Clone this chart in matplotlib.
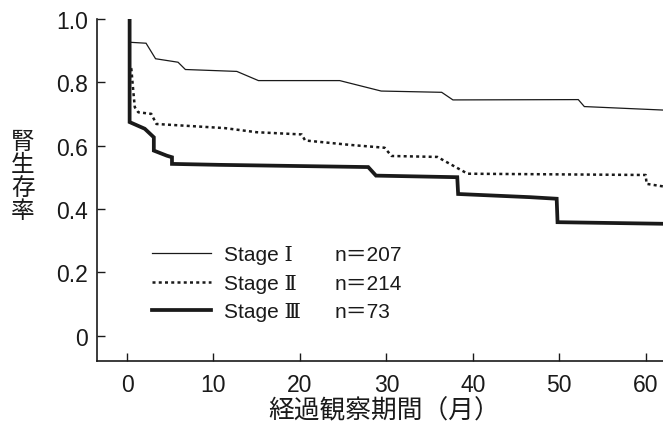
import matplotlib
matplotlib.use("Agg")
import matplotlib.pyplot as plt
from matplotlib.lines import Line2D

# ---- data ----
t_stage1 = [0.3, 0.3, 2.2, 3.3, 5.9, 6.75, 12.7, 15.2, 24.6, 29.4, 36.4, 37.7, 52.2, 52.9, 62]
s_stage1 = [1.0, 0.926, 0.923, 0.874, 0.863, 0.840, 0.834, 0.805, 0.805, 0.772, 0.768, 0.744, 0.745, 0.723, 0.712]

t_stage2 = [0.3, 0.3, 0.5, 0.7, 0.9, 1.3, 2.8, 3.4, 11.3, 15.0, 20.2, 20.6, 25.8, 29.8, 30.6, 35.9, 39.4, 60.0, 60.1, 62]
s_stage2 = [1.0, 0.85, 0.842, 0.779, 0.721, 0.705, 0.700, 0.668, 0.655, 0.642, 0.635, 0.616, 0.602, 0.593, 0.567, 0.564, 0.511, 0.507, 0.479, 0.471]

t_stage3 = [0.3, 0.3, 2.05, 3.1, 3.1, 4.6, 5.2, 5.2, 10.7, 27.9, 28.8, 38.2, 38.3, 46.6, 49.7, 49.8, 62]
s_stage3 = [1.0, 0.674, 0.653, 0.626, 0.584, 0.568, 0.563, 0.542, 0.539, 0.532, 0.505, 0.500, 0.447, 0.437, 0.432, 0.358, 0.353]

stage_labels = ["Stage \u2160", "Stage \u2161", "Stage \u2162"]
n_labels = ["n\uff1d207", "n\uff1d214", "n\uff1d73"]

x_ticks = [0, 10, 20, 30, 40, 50, 60]
y_ticks = [0, 0.2, 0.4, 0.6, 0.8, 1.0]
y_ticklabels = ["0", "0.2", "0.4", "0.6", "0.8", "1.0"]

x_label = "経過観察期間（月）"
y_label = "腎\n生\n存\n率"

# ---- style ----
fam = ["Liberation Sans", "DejaVu Serif", "Noto Sans CJK JP"]
plt.rcParams["font.family"] = fam

fig = plt.figure(figsize=(6.63, 4.31), dpi=100)
ax = fig.add_axes([0.147, 0.161, 0.853, 0.793])

l1, = ax.plot(t_stage1, s_stage1, color="#1a1a1a", lw=0.9, solid_joinstyle="miter")
l2, = ax.plot(t_stage2, s_stage2, color="#1a1a1a", lw=1.8, linestyle=(0, (1.2, 1.3)))
l3, = ax.plot(t_stage3, s_stage3, color="#1a1a1a", lw=2.7, solid_joinstyle="miter")

ax.set_xlim(-3.42, 62)
ax.set_ylim(-0.079, 1.0)
ax.set_xticks(x_ticks)
ax.set_yticks(y_ticks)
ax.set_yticklabels(y_ticklabels)
ax.tick_params(direction="in", length=6, width=1.0, labelsize=16.5, colors="#1a1a1a")
ax.tick_params(axis="y", pad=7)
ax.tick_params(axis="x", pad=9)
for sp in ["top", "right"]:
    ax.spines[sp].set_visible(False)
for sp in ["left", "bottom"]:
    ax.spines[sp].set_linewidth(1.2)
    ax.spines[sp].set_color("#1a1a1a")

ax.set_xlabel(x_label, fontsize=18.5, family=["Noto Sans CJK JP"], color="#1a1a1a")
ax.xaxis.set_label_coords(0.507, -0.145)
ax.xaxis.label.set_verticalalignment("center")
ax.set_ylabel(y_label, fontsize=17, family=["Noto Sans CJK JP"], rotation=0,
              linespacing=1.0, color="#1a1a1a")
ax.yaxis.set_label_coords(-0.132, 0.539)
ax.yaxis.label.set_verticalalignment("center")
ax.yaxis.label.set_horizontalalignment("center")

leg1 = ax.legend([l1, l2, l3], stage_labels, loc="upper left",
                 bbox_to_anchor=(0.096, 0.337), frameon=False, fontsize=15,
                 handlelength=2.85, handletextpad=0.6, labelspacing=0.45,
                 borderpad=0, borderaxespad=0)
for t in leg1.get_texts():
    t.set_color("#1a1a1a")
ax.add_artist(leg1)
dummy = [Line2D([], [], color="none") for _ in n_labels]
leg2 = ax.legend(dummy, n_labels, loc="upper left",
                 bbox_to_anchor=(0.42, 0.337), frameon=False, fontsize=15,
                 handlelength=0, handletextpad=0, labelspacing=0.45,
                 borderpad=0, borderaxespad=0)
for t in leg2.get_texts():
    t.set_color("#1a1a1a")

fig.savefig("out.png", dpi=100)
